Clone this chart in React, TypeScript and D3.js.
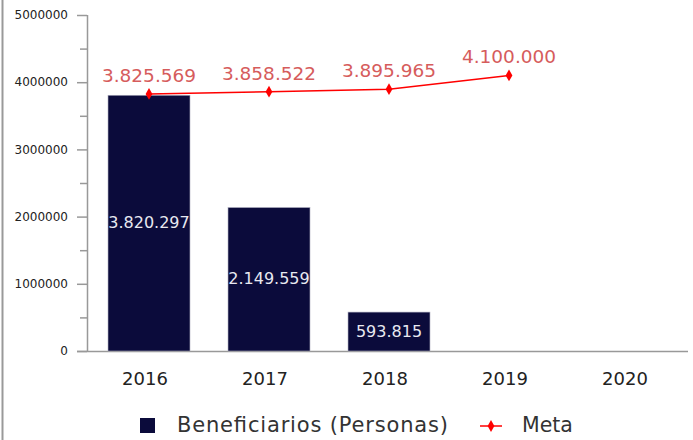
import React, { useEffect, useRef } from 'react'
import * as d3 from 'd3'

const years = ['2016', '2017', '2018', '2019', '2020']
const beneficiarios: (number | null)[] = [3820297, 2149559, 593815, null, null]
const meta: (number | null)[] = [3825569, 3858522, 3895965, 4100000, null]
const yTicks = [0, 1000000, 2000000, 3000000, 4000000, 5000000]
const legendLabels = ['Beneficiarios (Personas)', 'Meta']

const W = 693
const H = 440
const FONT = 'DejaVu Sans, sans-serif'

const App = () => {
  const ref = useRef<SVGSVGElement>(null)

  useEffect(() => {
    const svg = d3.select(ref.current)
    svg.selectAll('*').remove()

    const fmt = d3.formatLocale({ decimal: ',', thousands: '.', grouping: [3], currency: ['', ''] }).format(',d')

    const x = d3.scaleBand().domain(years).range([89, 689]).paddingInner(0.317).paddingOuter(0.1585)
    const y = d3.scaleLinear().domain([0, 5000000]).range([351, 15])

    // left frame line
    svg.append('line')
      .attr('x1', 2.5).attr('x2', 2.5).attr('y1', 0).attr('y2', H)
      .attr('stroke', '#999').attr('stroke-width', 2)

    // y axis
    const yAxis = svg.append('g').attr('transform', 'translate(87,0)')
    yAxis.append('line')
      .attr('x1', 0.5).attr('x2', 0.5).attr('y1', y(5000000)).attr('y2', y(0))
      .attr('stroke', '#999').attr('stroke-width', 1.5)
    const minor = d3.range(500000, 5000000, 1000000)
    yAxis.selectAll('.minor').data(minor).enter().append('line')
      .attr('x1', -7).attr('x2', 0).attr('y1', d => y(d) + 0.5).attr('y2', d => y(d) + 0.5)
      .attr('stroke', '#999').attr('stroke-width', 1.5)
    yAxis.selectAll('.major').data(yTicks).enter().append('line')
      .attr('x1', -10).attr('x2', 0).attr('y1', d => y(d) + 0.5).attr('y2', d => y(d) + 0.5)
      .attr('stroke', '#999').attr('stroke-width', 1.5)
    yAxis.selectAll('text').data(yTicks).enter().append('text')
      .attr('x', -19).attr('y', d => y(d))
      .attr('dy', '0.35em')
      .attr('text-anchor', 'end')
      .attr('font-family', FONT).attr('font-size', 12)
      .attr('fill', '#222')
      .text(d => String(d))

    // x axis line
    svg.append('line')
      .attr('x1', 77).attr('x2', 688).attr('y1', y(0) + 0.5).attr('y2', y(0) + 0.5)
      .attr('stroke', '#999').attr('stroke-width', 1.5)

    svg.append('g').selectAll('text').data(years).enter().append('text')
      .attr('x', d => (x(d) as number) + x.bandwidth() / 2 - 4)
      .attr('y', 385)
      .attr('text-anchor', 'middle')
      .attr('font-family', FONT).attr('font-size', 18)
      .attr('fill', '#222')
      .text(d => d)

    // bars
    const barData = years.map((yr, i) => ({ yr, v: beneficiarios[i] })).filter(d => d.v != null) as { yr: string, v: number }[]
    svg.append('g').selectAll('rect').data(barData).enter().append('rect')
      .attr('x', d => x(d.yr) as number)
      .attr('y', d => y(d.v) + 1)
      .attr('width', x.bandwidth())
      .attr('height', d => y(0) - y(d.v) - 1)
      .attr('fill', '#0b0b3b')
      .attr('stroke', '#aab').attr('stroke-width', 0.6)

    svg.append('g').selectAll('text').data(barData).enter().append('text')
      .attr('x', d => (x(d.yr) as number) + x.bandwidth() / 2)
      .attr('y', d => (y(d.v) + y(0)) / 2)
      .attr('dy', '0.35em')
      .attr('text-anchor', 'middle')
      .attr('font-family', FONT).attr('font-size', 16)
      .attr('fill', '#e8e8f0')
      .text(d => fmt(d.v))

    // meta line
    const metaData = years.map((yr, i) => ({ yr, v: meta[i] })).filter(d => d.v != null) as { yr: string, v: number }[]
    const cx = (d: { yr: string }) => (x(d.yr) as number) + x.bandwidth() / 2
    const line = d3.line<{ yr: string, v: number }>()
      .x(d => cx(d))
      .y(d => y(d.v))
    svg.append('path')
      .datum(metaData)
      .attr('fill', 'none')
      .attr('stroke', '#ff0000')
      .attr('stroke-width', 1.5)
      .attr('d', line)

    const diamond = d3.symbol().type(d3.symbolDiamond).size(40)
    svg.append('g').selectAll('path').data(metaData).enter().append('path')
      .attr('transform', d => `translate(${cx(d)},${y(d.v)})`)
      .attr('d', diamond)
      .attr('fill', '#ff0000')

    svg.append('g').selectAll('text').data(metaData).enter().append('text')
      .attr('x', d => cx(d))
      .attr('y', d => y(d.v) - 12)
      .attr('text-anchor', 'middle')
      .attr('font-family', FONT).attr('font-size', 18.5)
      .attr('fill', '#d65c5c')
      .text(d => fmt(d.v))

    // legend
    const lg = svg.append('g')
    lg.append('rect')
      .attr('x', 140).attr('y', 418).attr('width', 15).attr('height', 15)
      .attr('fill', '#0b0b3b')
    lg.append('text')
      .attr('x', 177).attr('y', 432)
      .attr('font-family', FONT).attr('font-size', 21)
      .attr('textLength', 271).attr('lengthAdjust', 'spacing')
      .attr('fill', '#333')
      .text(legendLabels[0])
    lg.append('line')
      .attr('x1', 480).attr('x2', 502).attr('y1', 426).attr('y2', 426)
      .attr('stroke', '#ff0000').attr('stroke-width', 1.5)
    lg.append('path')
      .attr('transform', 'translate(491,426)')
      .attr('d', diamond)
      .attr('fill', '#ff0000')
    lg.append('text')
      .attr('x', 522).attr('y', 432)
      .attr('font-family', FONT).attr('font-size', 20.5)
      .attr('fill', '#333')
      .text(legendLabels[1])
  }, [])

  return (
    <div style={{ position: 'fixed', left: 0, top: 0, background: '#fff' }}>
      <svg ref={ref} width={W} height={H} style={{ display: 'block' }} />
    </div>
  )
}

export default App
